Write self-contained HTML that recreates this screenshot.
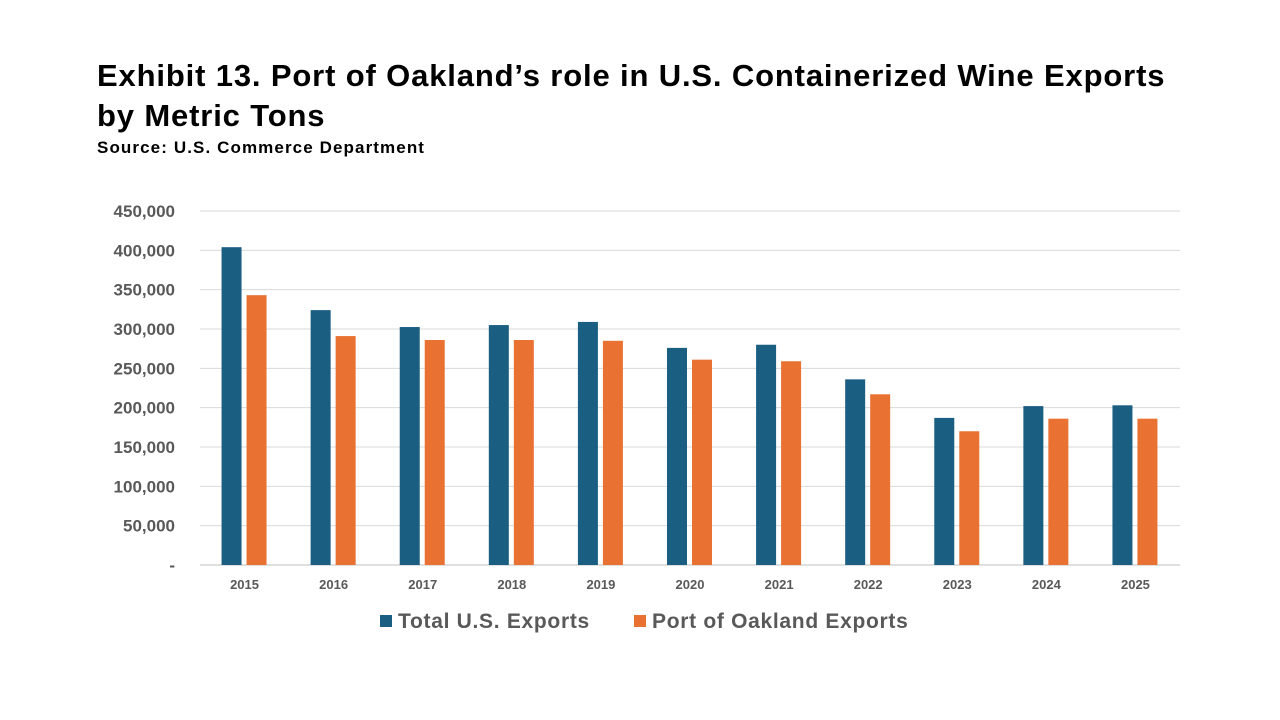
<!DOCTYPE html>
<html><head><meta charset="utf-8"><style>
body{margin:0;width:1280px;height:720px;background:#fff;font-family:"Liberation Sans",Arial,sans-serif;overflow:hidden}
.t{position:absolute;left:97px;font-weight:bold;color:#000}
</style></head><body>
<div class="t" style="top:56px;font-size:31px;line-height:40px;letter-spacing:0.85px">Exhibit 13. Port of Oakland’s role in U.S. Containerized Wine Exports<br>by Metric Tons</div>
<div class="t" style="top:138px;font-size:17px;letter-spacing:1.1px">Source: U.S. Commerce Department</div>
<svg id="c" width="1280" height="720" style="position:absolute;left:0;top:0"></svg>
<script>
const categories=["2015","2016","2017","2018","2019","2020","2021","2022","2023","2024","2025"];
const totalUS=[404000,324000,302500,305000,309000,276000,280000,236000,187000,202000,203000];
const oakland=[343000,291000,286000,286000,285000,261000,259000,217000,170000,186000,186000];
const yTicks=[0,50000,100000,150000,200000,250000,300000,350000,400000,450000];
const NS="http://www.w3.org/2000/svg",svg=document.getElementById('c');
const x0=200,x1=1180,yb=565,yt=211,yMax=450000;
const y=v=>yb-(v/yMax)*(yb-yt);
const bw=(x1-x0)/categories.length;
const xc=i=>x0+bw*(i+0.5);
function mk(t,a){const e=document.createElementNS(NS,t);for(const k in a)e.setAttribute(k,a[k]);svg.appendChild(e);return e;}
yTicks.forEach(v=>{
 const g=mk('line',{x1:x0,x2:x1,y1:y(v),y2:y(v),stroke:v?'#d9d9d9':'#bfbfbf','stroke-width':1});
 
 
 const t=mk('text',{x:175,y:y(v)+6,'text-anchor':'end','font-size':17,'font-weight':'bold',fill:'#595959'});
 t.textContent=v?v.toLocaleString('en-US'):'-';
 
 
});
categories.forEach((c,i)=>{
 const a=mk('rect',{x:xc(i)-23,y:y(totalUS[i]),width:20,height:yb-y(totalUS[i]),fill:'#1a5e82'});
 
 
 const b=mk('rect',{x:xc(i)+2,y:y(oakland[i]),width:20,height:yb-y(oakland[i]),fill:'#e97132'});
 
 
 const t=mk('text',{x:xc(i),y:589,'text-anchor':'middle','font-size':13,'font-weight':'bold',fill:'#595959'});
 t.textContent=c;
 
 
});
[[380,'#1a5e82','Total U.S. Exports'],[634,'#e97132','Port of Oakland Exports']].forEach(([x,col,l])=>{
 const r=mk('rect',{x:x,y:615,width:12,height:12,fill:col});
 
 
 const t=mk('text',{x:x+18,y:628,'font-size':21,'font-weight':'bold',fill:'#595959','letter-spacing':0.7});
 t.textContent=l;
 
 
});
</script>
</body></html>
